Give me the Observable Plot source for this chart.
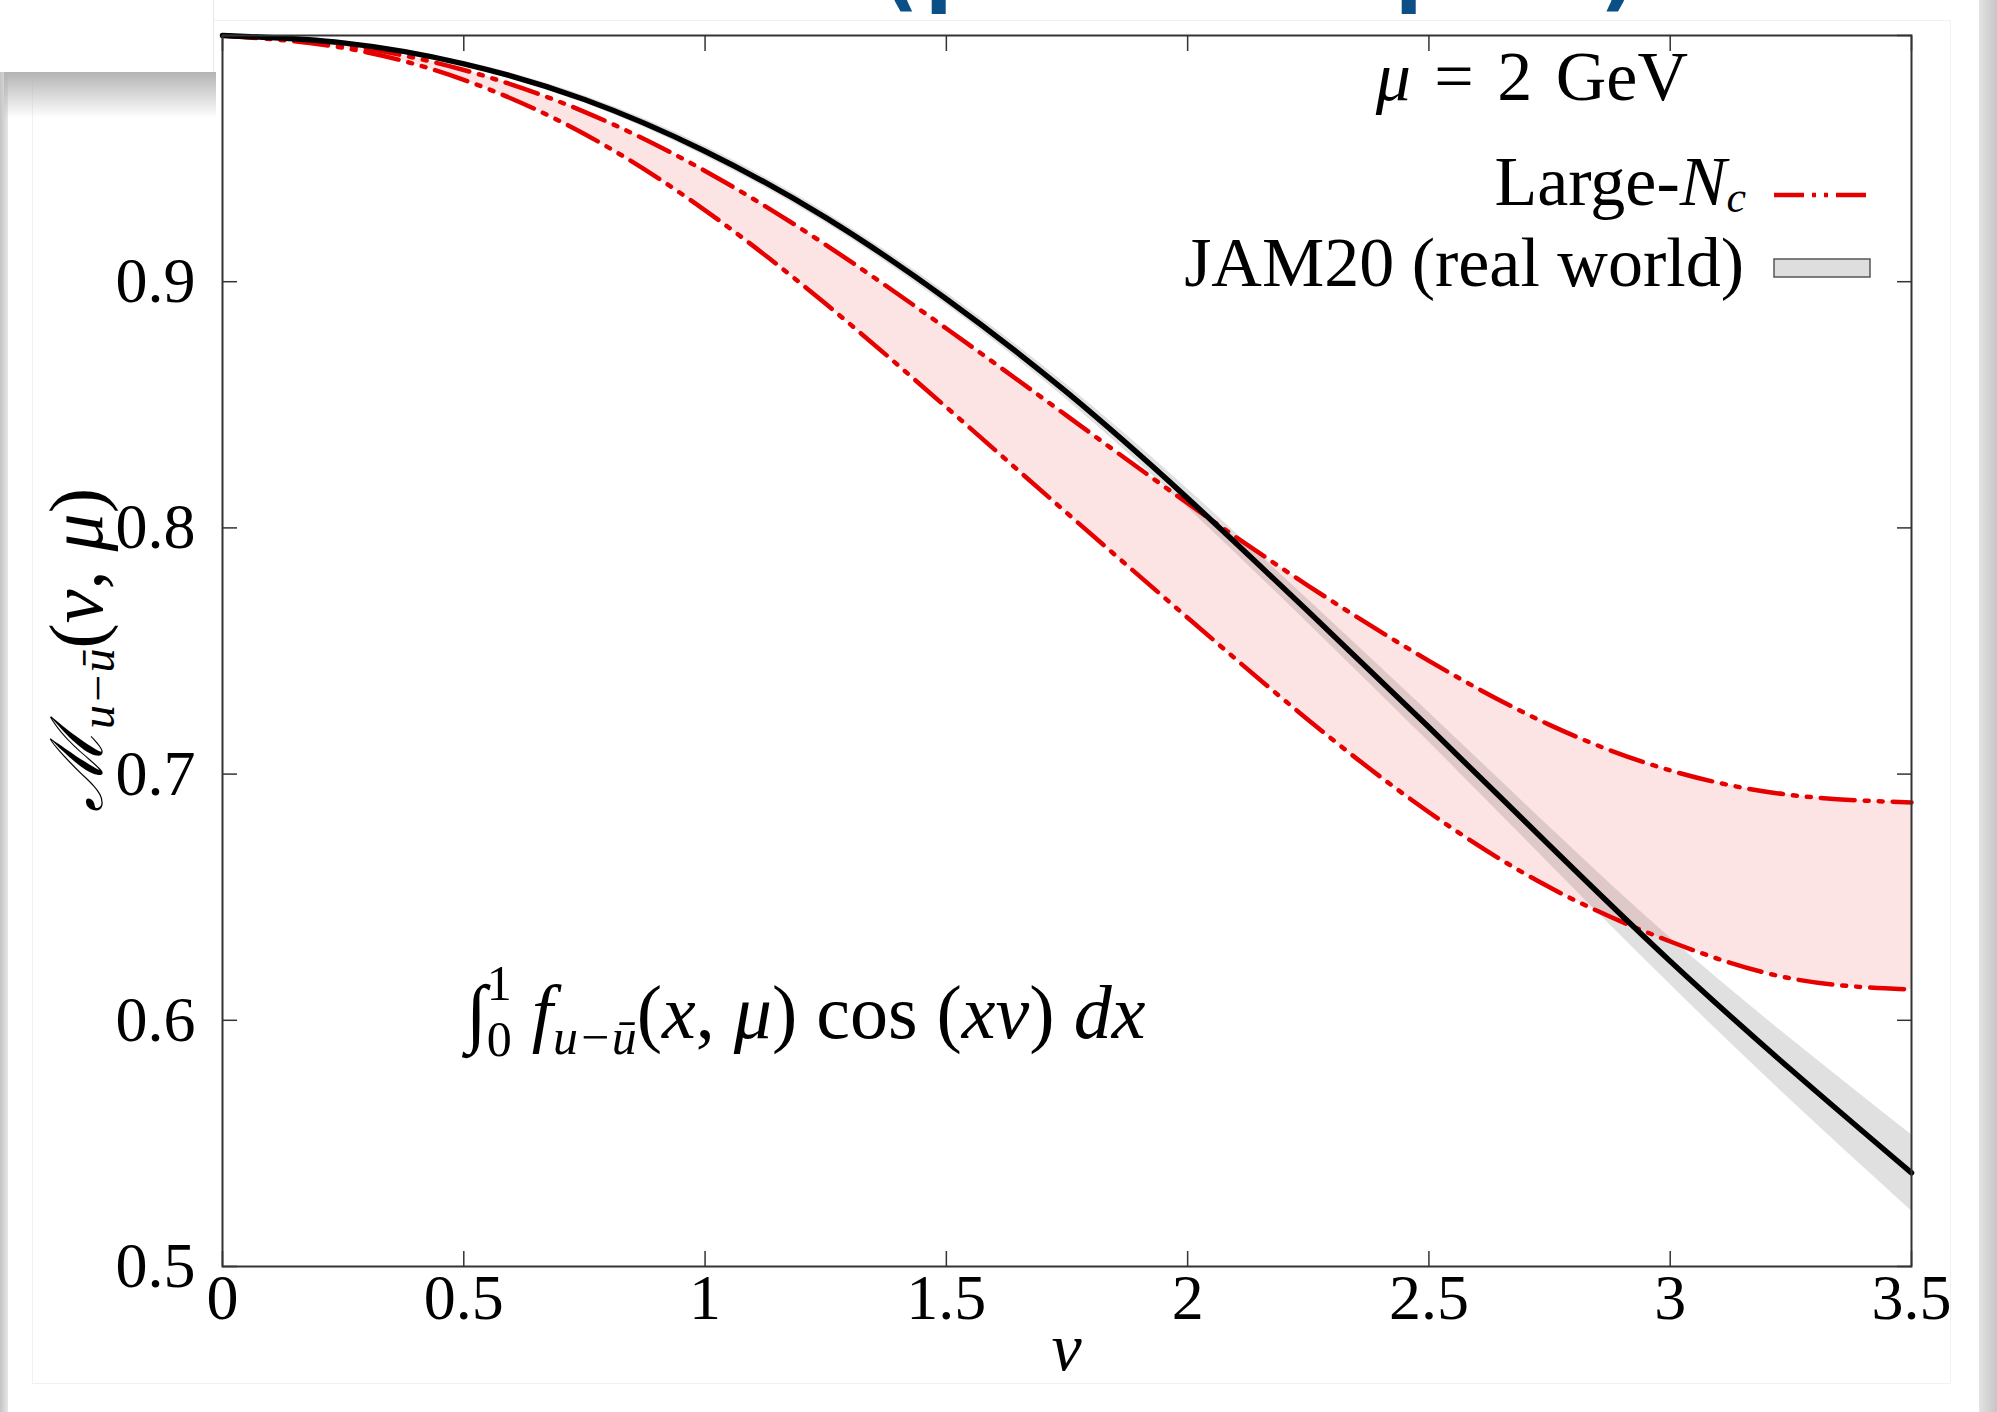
<!DOCTYPE html>
<html>
<head>
<meta charset="utf-8">
<script src="https://cdn.jsdelivr.net/npm/d3@7"></script>
<script src="https://cdn.jsdelivr.net/npm/@observablehq/plot@0.6"></script>
<style>
  html, body { margin: 0; padding: 0; background: #fff; }
  #wrap { position: relative; width: 1997px; height: 1412px; overflow: hidden; background: #fff; }
  #chart { position: absolute; left: 0; top: 0; z-index: 2; }
  .card { position: absolute; left: 32px; top: 20px; width: 1917px; height: 1362px; border: 1px solid #f1f1f1; z-index: 1; }
  .leftbar { position: absolute; left: 0; top: 72px; width: 8px; height: 1340px; background: linear-gradient(to right, #c4c4c4, #e6e6e6); z-index: 1; }
  .rightbar { position: absolute; left: 1979px; top: 0; width: 18px; height: 1412px; background: linear-gradient(to right, #e2e2e2, #c6c6c6); z-index: 1; }
  .box { position: absolute; left: 0; top: 0; width: 213px; height: 72px; background: #fff; border-right: 1px solid #e6e6e6; z-index: 4; }
  .shadow { position: absolute; left: 4px; top: 72px; width: 212px; height: 46px; background: linear-gradient(to bottom, #b3b3b3, rgba(255,255,255,0)); z-index: 3; }
  .blue { position: absolute; color: #0b4f87; font-family: "DejaVu Sans", sans-serif; font-weight: bold; font-size: 80px; line-height: 1; z-index: 3; }
</style>
</head>
<body>
<div id="wrap">
  <div class="card"></div>
  <div class="leftbar"></div>
  <div class="rightbar"></div>
  <div class="shadow"></div>
  <div class="box"></div>
  <span class="blue" style="left:882px; top:-66px;">(</span>
  <span class="blue" style="left:925px; top:-70px;">p</span>
  <span class="blue" style="left:1395px; top:-70px;">p</span>
  <span class="blue" style="left:1600px; top:-66px;">)</span>
  <div id="chart"></div>
</div>
<script>
// ---- data ----
const nu = [0, 0.25, 0.5, 0.75, 1.0, 1.25, 1.5, 1.75, 2.0, 2.25, 2.5, 2.75, 3.0, 3.25, 3.5];
const jam20 = [1.000, 0.997, 0.9885, 0.974, 0.953, 0.926, 0.893, 0.855, 0.812, 0.766, 0.719, 0.671, 0.624, 0.580, 0.538];
const jam20Err = [0, 0.0005, 0.001, 0.0015, 0.002, 0.0022, 0.0025, 0.003, 0.0038, 0.0048, 0.006, 0.0075, 0.0095, 0.0125, 0.0155];
const largeNcUpper = [1.000, 0.996, 0.986, 0.969, 0.945, 0.915, 0.881, 0.8455, 0.810, 0.7765, 0.746, 0.720, 0.7015, 0.6915, 0.6885];
const largeNcLower = [1.000, 0.995, 0.982, 0.960, 0.929, 0.891, 0.849, 0.806, 0.7635, 0.722, 0.6845, 0.654, 0.632, 0.617, 0.6125];

const xTicks = [0, 0.5, 1, 1.5, 2, 2.5, 3, 3.5];
const xTickLabels = ["0", "0.5", "1", "1.5", "2", "2.5", "3", "3.5"];
const yTicks = [0.5, 0.6, 0.7, 0.8, 0.9, 1.0];
const yTickLabels = ["0.5", "0.6", "0.7", "0.8", "0.9"];
const yLabelTicks = [0.5, 0.6, 0.7, 0.8, 0.9];

const rows = nu.map((v, i) => ({
  nu: v,
  jam: jam20[i],
  lo: jam20[i] - jam20Err[i],
  hi: jam20[i] + jam20Err[i],
  up: largeNcUpper[i],
  dn: largeNcLower[i]
}));

const RED = "#e60000";
const DASH = "34,10,4,10,4,10";
const SERIF = "'Liberation Serif', 'DejaVu Serif', serif";

const plot = Plot.plot({
  width: 1997,
  height: 1412,
  marginLeft: 222,
  marginRight: 86,
  marginTop: 35,
  marginBottom: 146,
  x: { domain: [0, 3.5] },
  y: { domain: [0.5, 1.0] },
  style: { fontFamily: SERIF, fontSize: "64px", background: "transparent", color: "#000", overflow: "visible" },
  marks: [
    Plot.areaY(rows, { x: "nu", y1: "dn", y2: "up", fill: "#fde4e4", curve: "natural" }),
    Plot.areaY(rows, { x: "nu", y1: "lo", y2: "hi", fill: "#000", fillOpacity: 0.12, curve: "natural" }),
    Plot.lineY(rows, { x: "nu", y: "up", stroke: RED, strokeWidth: 4.5, strokeDasharray: DASH, curve: "natural" }),
    Plot.lineY(rows, { x: "nu", y: "dn", stroke: RED, strokeWidth: 4.5, strokeDasharray: DASH, curve: "natural" }),
    Plot.lineY(rows, { x: "nu", y: "jam", stroke: "#000", strokeWidth: 5.5, curve: "natural" }),
    Plot.frame({ stroke: "#333", strokeWidth: 2 }),
    Plot.axisX(xTicks, { anchor: "bottom", tickSize: 15, dy: -15, fill: "none", label: null, stroke: "#333", strokeWidth: 1.5 }),
    Plot.axisX(xTicks, { anchor: "top", tickSize: 15, dy: 15, fill: "none", label: null, stroke: "#333", strokeWidth: 1.5 }),
    Plot.axisY(yTicks, { anchor: "left", tickSize: 15, dx: 15, fill: "none", label: null, stroke: "#333", strokeWidth: 1.5 }),
    Plot.axisY(yTicks, { anchor: "right", tickSize: 15, dx: -15, fill: "none", label: null, stroke: "#333", strokeWidth: 1.5 }),
    Plot.axisX(xTicks, { anchor: "bottom", tickSize: 0, tickPadding: 7, label: null,
      tickFormat: d => xTickLabels[xTicks.indexOf(d)] }),
    Plot.axisY(yLabelTicks, { anchor: "left", tickSize: 0, tickPadding: 27, label: null,
      tickFormat: d => yTickLabels[yLabelTicks.indexOf(d)] })
  ]
});

document.getElementById("chart").appendChild(plot);

// ---- text annotations, axis titles and legend ----
const svg = d3.select(plot);
const xs = plot.scale("x"), ys = plot.scale("y");
const g = svg.append("g").attr("font-family", SERIF).attr("fill", "#000").attr("text-anchor", "start");

// x-axis title
g.append("text")
  .attr("x", (xs.apply(0) + xs.apply(3.5)) / 2)
  .attr("y", 1370)
  .attr("text-anchor", "middle")
  .attr("font-size", 68)
  .attr("font-style", "italic")
  .text("ν");

// y-axis title
const yt = g.append("text")
  .attr("transform", `translate(102, 650) rotate(-90)`)
  .attr("text-anchor", "middle")
  .attr("font-size", 76);
yt.append("tspan").attr("font-family", "'DejaVu Serif', serif").attr("font-style", "italic").attr("font-size", 72).text("ℳ");
yt.append("tspan").attr("dy", 12).attr("font-size", 48).attr("font-style", "italic").text("u−ū");
yt.append("tspan").attr("dy", -12).text("(");
yt.append("tspan").attr("font-style", "italic").text("ν");
yt.append("tspan").text(", ");
yt.append("tspan").attr("font-style", "italic").text("μ");
yt.append("tspan").text(")");

// mu = 2 GeV
const mu = g.append("text")
  .attr("x", 1688).attr("y", 100)
  .attr("text-anchor", "end")
  .attr("font-size", 70)
  .attr("word-spacing", 6);
mu.append("tspan").attr("font-style", "italic").text("μ");
mu.append("tspan").text(" = 2 GeV");

// legend
const l1 = g.append("text").attr("x", 1746).attr("y", 205).attr("text-anchor", "end").attr("font-size", 70);
l1.append("tspan").text("Large-");
l1.append("tspan").attr("font-style", "italic").text("N");
l1.append("tspan").attr("font-style", "italic").attr("font-size", 44).attr("dy", 7).text("c");

g.append("text").attr("x", 1744).attr("y", 286).attr("text-anchor", "end").attr("font-size", 70)
  .text("JAM20 (real world)");

g.append("line")
  .attr("x1", 1774).attr("x2", 1870).attr("y1", 195).attr("y2", 195)
  .attr("stroke", RED).attr("stroke-width", 4.5).attr("stroke-dasharray", "30,8,4,8,4,8");
g.append("rect")
  .attr("x", 1774).attr("y", 259).attr("width", 96).attr("height", 18)
  .attr("fill", "#dedede").attr("stroke", "#555").attr("stroke-width", 1.5);

// integral annotation
const it = g.append("text").attr("x", 466).attr("y", 1038).attr("font-size", 76).attr("text-anchor", "start");
it.append("tspan").text("∫");
it.append("tspan").attr("dy", 18).attr("font-size", 50).text("0");
it.append("tspan").attr("dx", -25).attr("dy", -56).attr("font-size", 50).text("1");
it.append("tspan").attr("dx", 20).attr("dy", 38).attr("font-style", "italic").text("f");
it.append("tspan").attr("dy", 16).attr("font-size", 50).attr("font-style", "italic").text("u−ū");
it.append("tspan").attr("dy", -16).text("(");
it.append("tspan").attr("font-style", "italic").text("x");
it.append("tspan").text(", ");
it.append("tspan").attr("font-style", "italic").text("μ");
it.append("tspan").text(") cos (");
it.append("tspan").attr("font-style", "italic").text("xν");
it.append("tspan").text(") ");
it.append("tspan").attr("font-style", "italic").text("dx");
</script>
</body>
</html>
